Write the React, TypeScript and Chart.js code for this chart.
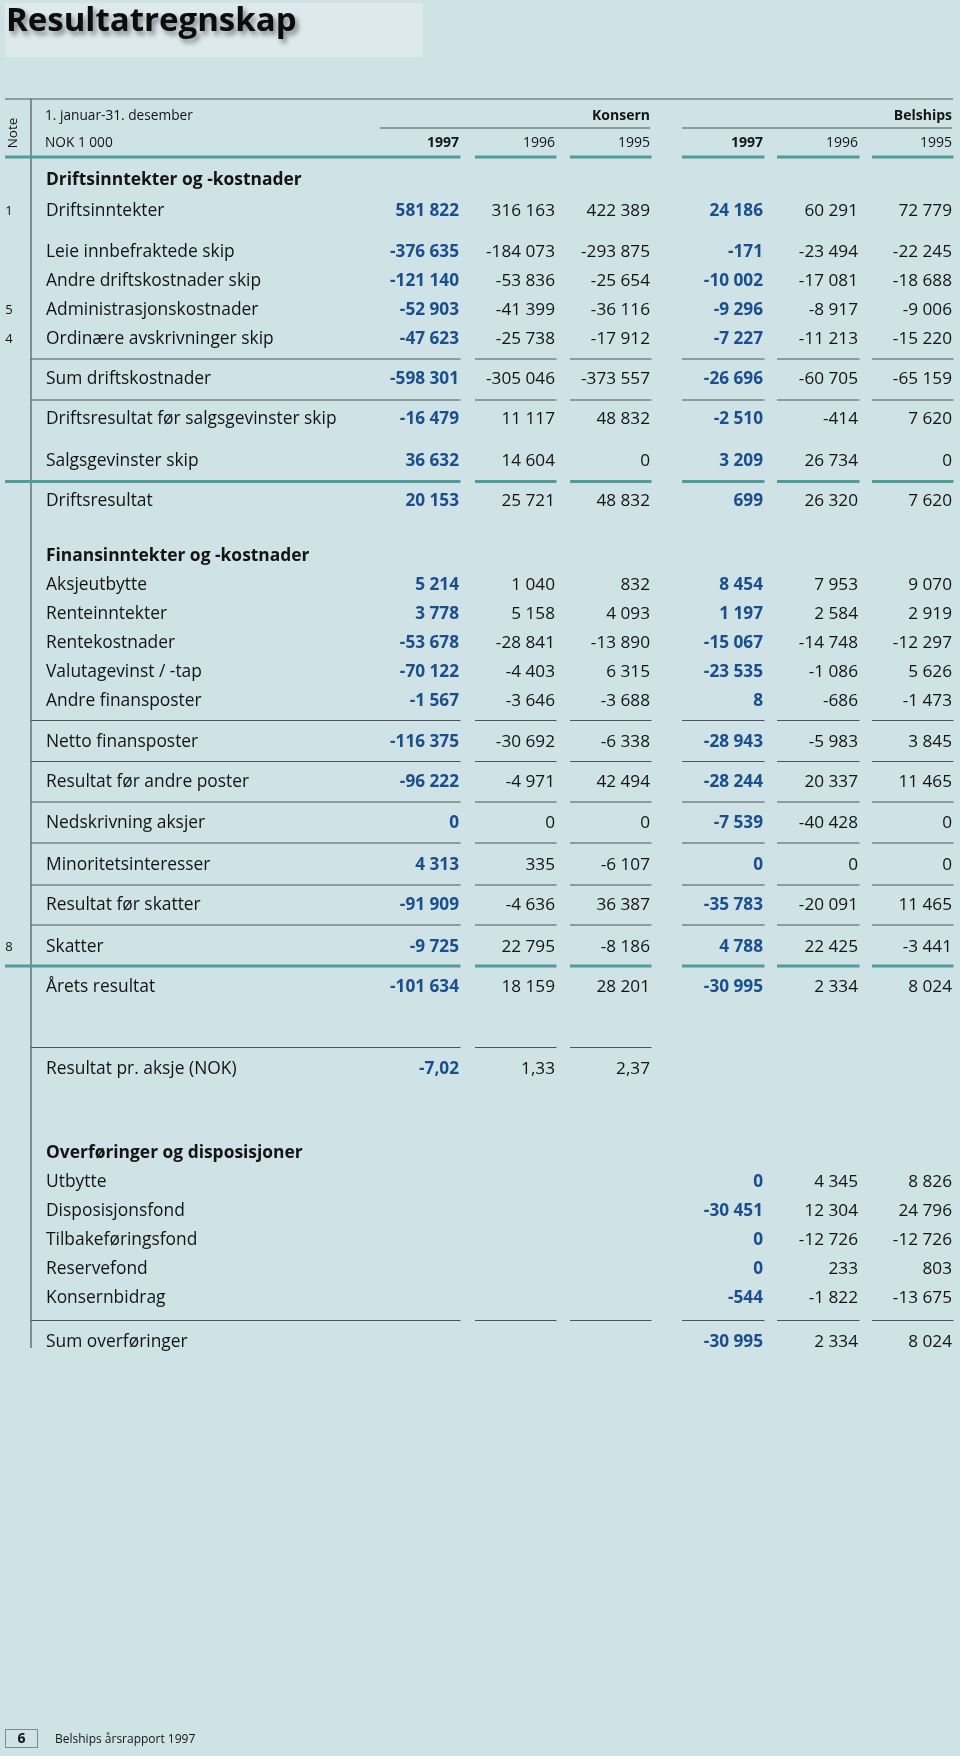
import React, { useEffect, useRef } from "react";
import { Chart, registerables } from "chart.js";

Chart.register(...registerables);

// ---------- data ----------
const title = "Resultatregnskap";
const periodLabel = "1. januar-31. desember";
const unitLabel = "NOK 1 000";
const groupLabels = ["Konsern", "Belships"];
const yearLabels = ["1997", "1996", "1995", "1997", "1996", "1995"];
const footerPage = "6";
const footerText = "Belships årsrapport 1997";

const rowLabels = [
  "Driftsinntekter og -kostnader",
  "Driftsinntekter",
  "Leie innbefraktede skip",
  "Andre driftskostnader skip",
  "Administrasjonskostnader",
  "Ordinære avskrivninger skip",
  "Sum driftskostnader",
  "Driftsresultat før salgsgevinster skip",
  "Salgsgevinster skip",
  "Driftsresultat",
  "Finansinntekter og -kostnader",
  "Aksjeutbytte",
  "Renteinntekter",
  "Rentekostnader",
  "Valutagevinst / -tap",
  "Andre finansposter",
  "Netto finansposter",
  "Resultat før andre poster",
  "Nedskrivning aksjer",
  "Minoritetsinteresser",
  "Resultat før skatter",
  "Skatter",
  "Årets resultat",
  "Resultat pr. aksje (NOK)",
  "Overføringer og disposisjoner",
  "Utbytte",
  "Disposisjonsfond",
  "Tilbakeføringsfond",
  "Reservefond",
  "Konsernbidrag",
  "Sum overføringer",
];

const rowNotes = [
  "", "1", "", "", "5", "4", "", "", "", "", "", "", "", "", "", "", "",
  "", "", "", "", "8", "", "", "", "", "", "", "", "", "",
];

const sectionRows = [0, 10, 24];

const _ = null;
const konsern1997 = [_, 581822, -376635, -121140, -52903, -47623, -598301, -16479, 36632, 20153, _, 5214, 3778, -53678, -70122, -1567, -116375, -96222, 0, 4313, -91909, -9725, -101634, -7.02, _, _, _, _, _, _, _];
const konsern1996 = [_, 316163, -184073, -53836, -41399, -25738, -305046, 11117, 14604, 25721, _, 1040, 5158, -28841, -4403, -3646, -30692, -4971, 0, 335, -4636, 22795, 18159, 1.33, _, _, _, _, _, _, _];
const konsern1995 = [_, 422389, -293875, -25654, -36116, -17912, -373557, 48832, 0, 48832, _, 832, 4093, -13890, 6315, -3688, -6338, 42494, 0, -6107, 36387, -8186, 28201, 2.37, _, _, _, _, _, _, _];
const belships1997 = [_, 24186, -171, -10002, -9296, -7227, -26696, -2510, 3209, 699, _, 8454, 1197, -15067, -23535, 8, -28943, -28244, -7539, 0, -35783, 4788, -30995, _, _, 0, -30451, 0, 0, -544, -30995];
const belships1996 = [_, 60291, -23494, -17081, -8917, -11213, -60705, -414, 26734, 26320, _, 7953, 2584, -14748, -1086, -686, -5983, 20337, -40428, 0, -20091, 22425, 2334, _, _, 4345, 12304, -12726, 233, -1822, 2334];
const belships1995 = [_, 72779, -22245, -18688, -9006, -15220, -65159, 7620, 0, 7620, _, 9070, 2919, -12297, 5626, -1473, 3845, 11465, 0, 0, 11465, -3441, 8024, _, _, 8826, 24796, -12726, 803, -13675, 8024];

const columns = [konsern1997, konsern1996, konsern1995, belships1997, belships1996, belships1995];

// ---------- layout & style ----------
const W = 960;
const H = 1756;
const BG = "#cfe2e6";
const BOX = "#dde9ec";
const INK = "#141414";
const BLUE = "#1a4f8c";
const TEAL = "#4f9d9b";
const RULE = "#4c575b";
const FONT = '"Open Sans", "Noto Sans", sans-serif';

const colRight = [459, 555, 650, 763, 858, 952];
const colLeft = [380, 475, 570, 682, 777, 872];
const labelX = 46;
const noteX = 9;
const vLineX = 31;

const rowY = [179, 209.5, 251, 280, 308.5, 337.5, 378, 418, 459.5, 500, 554.5, 583.5, 612.8, 642, 671, 700, 740.5, 781, 822, 864, 904, 945.5, 986, 1067.6, 1151.6, 1180.7, 1209.8, 1239, 1268, 1297, 1341];

// rules: y, kind ("thin" | "teal"), number of columns spanned, left start of first column
const rules = [
  { y: 359, kind: "thin", cols: 6, start: vLineX },
  { y: 400, kind: "thin", cols: 6, start: vLineX },
  { y: 481.5, kind: "teal", cols: 6, start: 5 },
  { y: 720.5, kind: "thin", cols: 6, start: vLineX },
  { y: 761.5, kind: "thin", cols: 6, start: vLineX },
  { y: 802, kind: "thin", cols: 6, start: vLineX },
  { y: 843, kind: "thin", cols: 6, start: vLineX },
  { y: 885, kind: "thin", cols: 6, start: vLineX },
  { y: 925, kind: "thin", cols: 6, start: vLineX },
  { y: 966, kind: "teal", cols: 6, start: 5 },
  { y: 1047.5, kind: "thin", cols: 3, start: vLineX },
  { y: 1320.5, kind: "thin", cols: 6, start: vLineX },
  { y: 157, kind: "teal", cols: 6, start: 5 },
];

function fmt(v: number): string {
  if (!Number.isInteger(v)) {
    return v.toFixed(2).replace(".", ",");
  }
  const s = Math.abs(v).toString().replace(/\B(?=(\d{3})+(?!\d))/g, " ");
  return (v < 0 ? "-" : "") + s;
}

const tablePlugin = {
  id: "tablePlugin",
  beforeDraw(chart: any) {
    const ctx = chart.ctx;
    ctx.save();
    ctx.fillStyle = BG;
    ctx.fillRect(0, 0, chart.width, chart.height);
    ctx.restore();
  },
  afterDatasetsDraw(chart: any) {
    const ctx: CanvasRenderingContext2D = chart.ctx;
    const xs = chart.scales.x;
    const ys = chart.scales.y;
    const X = (v: number) => xs.getPixelForValue(v);
    const Y = (v: number) => ys.getPixelForValue(v);
    ctx.save();

    // title box
    ctx.fillStyle = BOX;
    ctx.fillRect(X(5), Y(3), X(423) - X(5), Y(57) - Y(3));
    ctx.save();
    ctx.font = `700 33px ${FONT}`;
    ctx.fillStyle = "#0c0c0c";
    ctx.shadowColor = "rgba(0,0,0,0.42)";
    ctx.shadowOffsetX = 3;
    ctx.shadowOffsetY = 4;
    ctx.shadowBlur = 5;
    ctx.textBaseline = "alphabetic";
    ctx.textAlign = "left";
    ctx.fillText(title, X(6), Y(30.5));
    ctx.restore();

    const hline = (x1: number, x2: number, y: number, kind: string) => {
      ctx.beginPath();
      ctx.strokeStyle = kind === "teal" ? TEAL : RULE;
      ctx.lineWidth = kind === "teal" ? 3 : 1.2;
      ctx.moveTo(X(x1), Y(y));
      ctx.lineTo(X(x2), Y(y));
      ctx.stroke();
    };

    // frame lines
    hline(5, 953, 99, "thin");
    ctx.beginPath();
    ctx.strokeStyle = RULE;
    ctx.lineWidth = 1.2;
    ctx.moveTo(X(vLineX), Y(99));
    ctx.lineTo(X(vLineX), Y(1348));
    ctx.stroke();

    // group lines in header
    hline(colLeft[0], colRight[2], 128, "thin");
    hline(colLeft[3], colRight[5], 128, "thin");

    // rules
    rules.forEach((r) => {
      for (let c = 0; c < r.cols; c++) {
        const x1 = c === 0 ? r.start : colLeft[c];
        hline(x1, colRight[c] + 1.5, r.y, r.kind);
      }
    });

    // header text
    ctx.fillStyle = INK;
    ctx.textBaseline = "alphabetic";
    ctx.font = `400 13.7px ${FONT}`;
    ctx.textAlign = "left";
    ctx.fillText(periodLabel, X(45), Y(120));
    ctx.fillText(unitLabel, X(45), Y(147));
    ctx.font = `700 14px ${FONT}`;
    ctx.textAlign = "right";
    ctx.fillText(groupLabels[0], X(colRight[2]), Y(120));
    ctx.fillText(groupLabels[1], X(colRight[5]), Y(120));
    yearLabels.forEach((yl, i) => {
      ctx.font = `${i === 0 || i === 3 ? 700 : 400} 14px ${FONT}`;
      ctx.fillText(yl, X(colRight[i]), Y(147));
    });
    // rotated "Note"
    ctx.save();
    ctx.translate(X(16.5), Y(133));
    ctx.rotate(-Math.PI / 2);
    ctx.font = `400 13.5px ${FONT}`;
    ctx.textAlign = "center";
    ctx.fillText("Note", 0, 0);
    ctx.restore();

    // row labels & notes
    rowLabels.forEach((lab, r) => {
      const isSection = sectionRows.includes(r);
      ctx.font = `${isSection ? 700 : 400} 17.4px ${FONT}`;
      ctx.textAlign = "left";
      ctx.fillStyle = INK;
      ctx.fillText(lab, X(labelX), Y(rowY[r] + 6));
      if (rowNotes[r]) {
        ctx.font = `400 13px ${FONT}`;
        ctx.textAlign = "center";
        ctx.fillText(rowNotes[r], X(noteX), Y(rowY[r] + 5));
      }
    });

    // cell values from datasets
    chart.data.datasets.forEach((ds: any, d: number) => {
      const meta = chart.getDatasetMeta(d);
      const bold = d === 0 || d === 3;
      ctx.font = `${bold ? 700 : 400} 17.2px ${FONT}`;
      ctx.fillStyle = bold ? BLUE : INK;
      ctx.textAlign = "right";
      meta.data.forEach((el: any, i: number) => {
        const raw = ds.data[i];
        ctx.fillText(fmt(raw.v), el.x, el.y + 6);
      });
    });

    // footer
    ctx.strokeStyle = "#7d8b8f";
    ctx.lineWidth = 1;
    ctx.strokeRect(X(5) + 0.5, Y(1729) + 0.5, X(37) - X(5), Y(1747) - Y(1729));
    ctx.fillStyle = INK;
    ctx.font = `700 14px ${FONT}`;
    ctx.textAlign = "center";
    ctx.fillText(footerPage, X(21.5), Y(1743));
    ctx.font = `400 12px ${FONT}`;
    ctx.textAlign = "left";
    ctx.fillText(footerText, X(55), Y(1742.5));

    ctx.restore();
  },
};

export default function App() {
  const ref = useRef<HTMLCanvasElement | null>(null);
  useEffect(() => {
    document.body.style.margin = "0";
    document.body.style.background = BG;
    const canvas = ref.current;
    if (!canvas) return;
    const datasets = columns.map((col, c) => ({
      label: yearLabels[c],
      data: col
        .map((v, r) => (v === null ? null : { x: colRight[c], y: rowY[r], v }))
        .filter((p) => p !== null) as any[],
      pointRadius: 0,
      pointHoverRadius: 0,
      showLine: false,
    }));
    const chart = new Chart(canvas, {
      type: "scatter",
      data: { datasets },
      options: {
        animation: false,
        responsive: false,
        devicePixelRatio: 1,
        layout: { padding: 0 },
        events: [],
        plugins: { legend: { display: false }, tooltip: { enabled: false } },
        scales: {
          x: { type: "linear", min: 0, max: W, display: false },
          y: { type: "linear", min: 0, max: H, reverse: true, display: false },
        },
      },
      plugins: [tablePlugin as any],
    });
    return () => chart.destroy();
  }, []);
  return <canvas ref={ref} width={W} height={H} style={{ display: "block" }} />;
}
